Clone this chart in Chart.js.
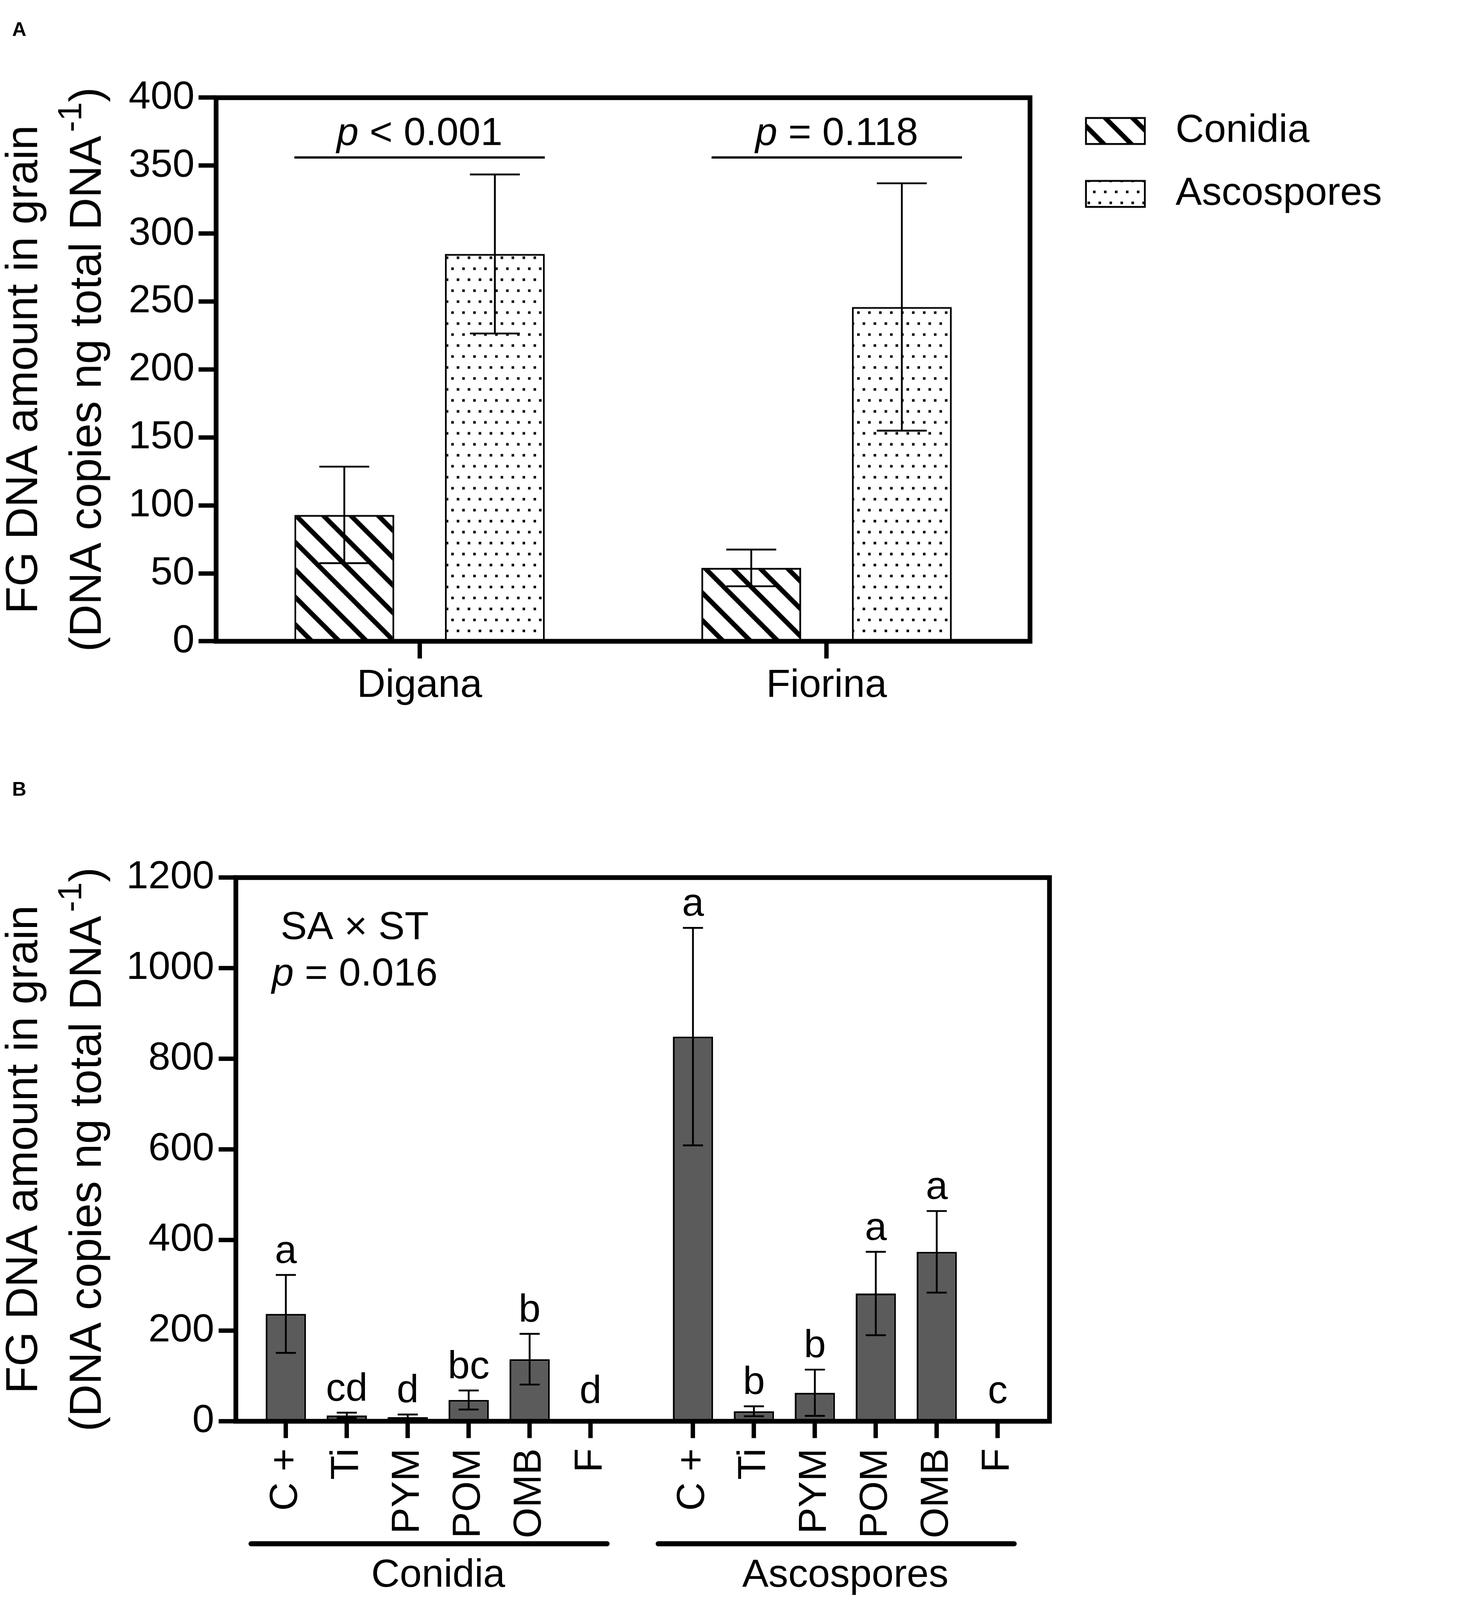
<!DOCTYPE html>
<html>
<head>
<meta charset="utf-8">
<script src="https://cdn.jsdelivr.net/npm/chart.js@4.4.1/dist/chart.umd.min.js"></script>
<style>
  html, body { margin: 0; padding: 0; background: #ffffff; overflow: hidden; }
  #wrap { position: relative; background: #ffffff; }
  canvas { position: absolute; left: 0; }
</style>
</head>
<body>
<div id="wrap">
  <canvas id="chartA" width="3796" height="2050"></canvas>
  <canvas id="chartB" width="3796" height="2326"></canvas>
</div>
<script>
// ---------------- DATA ----------------
// Panel A
const CULTIVARS = ['Digana', 'Fiorina'];
const SPORE_TYPES = ['Conidia', 'Ascospores'];
const A_CONIDIA = [93, 54];
const A_CONIDIA_SE = [35.5, 13.5];
const A_ASCO = [285, 246];
const A_ASCO_SE = [58.5, 91];
const A_PVALUES = ['< 0.001', '= 0.118'];
const A_Y_MAX = 400;
const A_Y_STEP = 50;
const A_SIG_LEVEL = 356;          // height of the significance bar (axis units)

// Panel B
const TREATMENTS = ['C +', 'Ti', 'PYM', 'POM', 'OMB', 'F'];
const B_CONIDIA = [237, 13, 9, 47, 137, 0];
const B_CONIDIA_SE = [86, 6, 6, 21, 56, 0];
const B_ASCO = [849, 22, 63, 282, 374, 0];
const B_ASCO_SE = [240, 11, 51, 92, 90, 0];
const B_CONIDIA_LETTERS = ['a', 'cd', 'd', 'bc', 'b', 'd'];
const B_ASCO_LETTERS = ['a', 'b', 'b', 'a', 'a', 'c'];
const B_Y_MAX = 1200;
const B_Y_STEP = 200;
const B_STAT_LINES = ['SA \u00D7 ST', '= 0.016'];

// Axis titles
const Y_TITLE_1 = 'FG DNA amount in grain';
const Y_TITLE_2 = '(DNA copies ng total DNA';
const Y_TITLE_SUP = '-1';
const Y_TITLE_END = ')';

// ---------------- STYLE / LAYOUT ----------------
const DESIGN_W = 3796, DESIGN_H = 4376;
const A_H = 2050, B_H = DESIGN_H - A_H;
const FONT = "'Liberation Sans', Arial, Helvetica, sans-serif";
const FS = 108;              // main font size
const TITLE_FS = 122;
const SUP_FS = 92;
const FRAME_W = 13;
const TICK_W = 12;
const BAR_GREY = '#5b5b5b';
const GROUP_GAP = 0.68;      // extra spacing between treatment groups (slot units)
const SIG_SHIFT_PX = [0, 28]; // horizontal nudge of each significance bar

Chart.defaults.font.family = FONT;
Chart.defaults.color = '#000';

// fit the design to the actual viewport
const VW = window.innerWidth || DESIGN_W, VH = window.innerHeight || DESIGN_H;
const SCALE = Math.min(VW / DESIGN_W, VH / DESIGN_H);
const DPR = SCALE * (window.devicePixelRatio || 1);
(function sizePage() {
  const wrap = document.getElementById('wrap');
  wrap.style.width = (DESIGN_W * SCALE) + 'px';
  wrap.style.height = (DESIGN_H * SCALE) + 'px';
  const a = document.getElementById('chartA'), b = document.getElementById('chartB');
  a.style.top = '0px';
  a.style.width = (DESIGN_W * SCALE) + 'px'; a.style.height = (A_H * SCALE) + 'px';
  b.style.top = (A_H * SCALE) + 'px';
  b.style.width = (DESIGN_W * SCALE) + 'px'; b.style.height = (B_H * SCALE) + 'px';
})();

// derived positions for panel B
const B_POS = [];
const B_LABELS = [];
const B_VALUES = [];
const B_SE = [];
const B_LETTERS = [];
[[B_CONIDIA, B_CONIDIA_SE, B_CONIDIA_LETTERS], [B_ASCO, B_ASCO_SE, B_ASCO_LETTERS]].forEach((grp, gi) => {
  TREATMENTS.forEach((t, i) => {
    B_POS.push(gi * (TREATMENTS.length + GROUP_GAP) + i);
    B_LABELS.push(t);
    B_VALUES.push(grp[0][i]);
    B_SE.push(grp[1][i]);
    B_LETTERS.push(grp[2][i]);
  });
});
const B_X_MIN = B_POS[0] - 0.82;
const B_X_MAX = B_POS[B_POS.length - 1] + 0.85;

// ---------------- PATTERNS ----------------
function makeHatch(ctx) {
  const T = 75;
  const c = document.createElement('canvas');
  c.width = T; c.height = T;
  const g = c.getContext('2d');
  g.fillStyle = '#fff'; g.fillRect(0, 0, T, T);
  g.strokeStyle = '#000'; g.lineWidth = 13;
  for (const k of [-T, 0, T]) {
    g.beginPath(); g.moveTo(k - 20, -20); g.lineTo(k + T + 20, T + 20); g.stroke();
  }
  return ctx.createPattern(c, 'repeat');
}
function makeDots(ctx) {
  const W = 30, H = 60;
  const c = document.createElement('canvas');
  c.width = W; c.height = H;
  const g = c.getContext('2d');
  g.fillStyle = '#fff'; g.fillRect(0, 0, W, H);
  g.fillStyle = '#000';
  g.fillRect(4, 11, 7, 7);
  g.fillRect(19, 41, 7, 7);
  return ctx.createPattern(c, 'repeat');
}

// ---------------- DRAW HELPERS ----------------
function drawFrame(chart) {
  const { ctx, chartArea: ca } = chart;
  ctx.save();
  ctx.strokeStyle = '#000'; ctx.lineWidth = FRAME_W; ctx.lineJoin = 'miter';
  ctx.strokeRect(ca.left, ca.top, ca.right - ca.left, ca.bottom - ca.top);
  ctx.restore();
}
function drawErrorBars(chart, seSets) {
  const ctx = chart.ctx, ys = chart.scales.y;
  ctx.save();
  ctx.strokeStyle = '#000'; ctx.lineWidth = 5;
  chart.data.datasets.forEach((ds, di) => {
    const meta = chart.getDatasetMeta(di);
    meta.data.forEach((bar, i) => {
      const raw = ds.data[i];
      const v = (typeof raw === 'object') ? raw.y : raw;
      const e = seSets[di][i];
      if (!e) return;
      const yt = ys.getPixelForValue(v + e), yb = ys.getPixelForValue(v - e);
      const h = bar.width / 4;
      ctx.beginPath();
      ctx.moveTo(bar.x, yt); ctx.lineTo(bar.x, yb);
      ctx.moveTo(bar.x - h, yt); ctx.lineTo(bar.x + h, yt);
      ctx.moveTo(bar.x - h, yb); ctx.lineTo(bar.x + h, yb);
      ctx.stroke();
    });
  });
  ctx.restore();
}
function drawYTitle(chart) {
  const ctx = chart.ctx, ca = chart.chartArea;
  const cy = (ca.top + ca.bottom) / 2;
  ctx.save();
  ctx.fillStyle = '#000';
  ctx.translate(101, cy); ctx.rotate(-Math.PI / 2);
  ctx.font = TITLE_FS + 'px ' + FONT;
  ctx.textAlign = 'center'; ctx.textBaseline = 'alphabetic';
  ctx.fillText(Y_TITLE_1, 0, 0);
  ctx.restore();

  ctx.save();
  ctx.fillStyle = '#000';
  ctx.translate(276, cy); ctx.rotate(-Math.PI / 2);
  ctx.textAlign = 'left'; ctx.textBaseline = 'alphabetic';
  const mainF = TITLE_FS + 'px ' + FONT, supF = SUP_FS + 'px ' + FONT;
  ctx.font = mainF;
  const w1 = ctx.measureText(Y_TITLE_2).width, w3 = ctx.measureText(Y_TITLE_END).width;
  ctx.font = supF;
  const ws = ctx.measureText(Y_TITLE_SUP).width;
  const gap = 10;
  let x = -(w1 + gap + ws + w3) / 2;
  ctx.font = mainF; ctx.fillText(Y_TITLE_2, x, 0); x += w1 + gap;
  ctx.font = supF; ctx.fillText(Y_TITLE_SUP, x, -54); x += ws;
  ctx.font = mainF; ctx.fillText(Y_TITLE_END, x, 0);
  ctx.restore();
}
function drawPanelLabel(chart, letter, baseline) {
  const ctx = chart.ctx;
  ctx.save();
  ctx.fillStyle = '#000';
  ctx.font = 'bold 54px ' + FONT;
  ctx.textAlign = 'left'; ctx.textBaseline = 'alphabetic';
  ctx.fillText(letter, 33, baseline);
  ctx.restore();
}
function drawPText(ctx, rest, cx, baseline) {
  const nf = FS + 'px ' + FONT, itf = 'italic ' + FS + 'px ' + FONT;
  ctx.font = itf; const wp = ctx.measureText('p').width;
  ctx.font = nf; const wr = ctx.measureText(' ' + rest).width;
  let x = cx - (wp + wr) / 2;
  ctx.textAlign = 'left'; ctx.textBaseline = 'alphabetic';
  ctx.font = itf; ctx.fillText('p', x, baseline);
  ctx.font = nf; ctx.fillText(' ' + rest, x + wp, baseline);
}
function zeroPad(s) { s.paddingLeft = 0; s.paddingRight = 0; s.paddingTop = 0; s.paddingBottom = 0; }

// ---------------- PANEL A ----------------
const ctxA = document.getElementById('chartA').getContext('2d');
const hatch = makeHatch(ctxA);
const dots = makeDots(ctxA);
const LEGEND_GAP = 89;   // gap between plot frame and legend block

const pluginA = {
  id: 'panelA',
  afterLayout(chart) {
    const lg = chart.legend;
    if (!lg) return;
    const d = chart.chartArea.right + LEGEND_GAP - lg.left;
    lg.left += d; lg.right += d;
  },
  afterDatasetsDraw(chart) {
    drawErrorBars(chart, [A_CONIDIA_SE, A_ASCO_SE]);
  },
  afterDraw(chart) {
    const ctx = chart.ctx, ys = chart.scales.y;
    drawFrame(chart);
    const m0 = chart.getDatasetMeta(0), m1 = chart.getDatasetMeta(1);
    ctx.save();
    ctx.strokeStyle = '#000'; ctx.fillStyle = '#000'; ctx.lineWidth = 6;
    CULTIVARS.forEach((c, i) => {
      const b0 = m0.data[i], b1 = m1.data[i];
      const sh = SIG_SHIFT_PX[i] || 0;
      const x1 = b0.x - b0.width / 2 + sh, x2 = b1.x + b1.width / 2 + sh;
      const yy = ys.getPixelForValue(A_SIG_LEVEL);
      ctx.beginPath(); ctx.moveTo(x1, yy); ctx.lineTo(x2, yy); ctx.stroke();
      drawPText(ctx, A_PVALUES[i], (x1 + x2) / 2, yy - 34);
    });
    ctx.restore();
    drawYTitle(chart);
    drawPanelLabel(chart, 'A', 98);
  }
};

new Chart(ctxA, {
  type: 'bar',
  data: {
    labels: CULTIVARS,
    datasets: [
      { label: SPORE_TYPES[0], data: A_CONIDIA, backgroundColor: hatch, borderColor: '#000', borderWidth: 5, borderSkipped: false },
      { label: SPORE_TYPES[1], data: A_ASCO, backgroundColor: dots, borderColor: '#000', borderWidth: 5, borderSkipped: false }
    ]
  },
  options: {
    responsive: false,
    animation: false,
    devicePixelRatio: DPR,
    events: [],
    layout: { autoPadding: false, padding: { left: 0, top: 240, right: 96, bottom: 0 } },
    datasets: { bar: { categoryPercentage: 0.74, barPercentage: 0.663 } },
    scales: {
      x: {
        position: 'bottom', offset: true,
        grid: { display: true, drawOnChartArea: false, drawTicks: true, tickLength: 47, tickWidth: TICK_W, tickColor: '#000', color: '#000', offset: false },
        border: { display: false },
        ticks: { color: '#000', font: { size: FS }, padding: 10, maxRotation: 0, minRotation: 0 },
        afterFit: s => { s.height = 297; zeroPad(s); }
      },
      x2: {
        type: 'category', position: 'top', display: true,
        grid: { display: false }, border: { display: false }, ticks: { display: false },
        afterFit: s => { s.height = 27; zeroPad(s); }
      },
      y: {
        min: 0, max: A_Y_MAX,
        ticks: { stepSize: A_Y_STEP, color: '#000', font: { size: FS }, padding: 11, callback: v => String(v) },
        grid: { display: true, drawOnChartArea: false, drawTicks: true, tickLength: 48, tickWidth: TICK_W, tickColor: '#000', color: '#000' },
        border: { display: false },
        afterFit: s => { s.width = 591; zeroPad(s); }
      }
    },
    plugins: {
      tooltip: { enabled: false },
      legend: {
        display: true, position: 'right', align: 'start', fullSize: true, maxWidth: 900,
        labels: {
          boxWidth: 161, boxHeight: 71, padding: 64, color: '#000', font: { size: FS },
          generateLabels: chart => chart.data.datasets.map((ds, i) => ({
            text: ' ' + ds.label, fillStyle: ds.backgroundColor, strokeStyle: '#000',
            lineWidth: 5, hidden: false, datasetIndex: i
          }))
        }
      }
    }
  },
  plugins: [pluginA]
});

// ---------------- PANEL B ----------------
const ctxB = document.getElementById('chartB').getContext('2d');

const pluginB = {
  id: 'panelB',
  afterDatasetsDraw(chart) {
    drawErrorBars(chart, [B_SE]);
    const ctx = chart.ctx, ys = chart.scales.y;
    const meta = chart.getDatasetMeta(0);
    ctx.save();
    ctx.fillStyle = '#000'; ctx.font = FS + 'px ' + FONT;
    ctx.textAlign = 'center'; ctx.textBaseline = 'alphabetic';
    meta.data.forEach((bar, i) => {
      const top = ys.getPixelForValue(B_VALUES[i] + B_SE[i]);
      const base = Math.min(top - 33, ys.getPixelForValue(0) - 50);
      ctx.fillText(B_LETTERS[i], bar.x, base);
    });
    ctx.restore();
  },
  afterDraw(chart) {
    const ctx = chart.ctx, xs = chart.scales.x, ca = chart.chartArea;
    drawFrame(chart);
    ctx.save();
    ctx.strokeStyle = '#000'; ctx.fillStyle = '#000'; ctx.lineWidth = 14; ctx.lineCap = 'round';
    const n = TREATMENTS.length;
    SPORE_TYPES.forEach((name, gi) => {
      const first = B_POS[gi * n], last = B_POS[gi * n + n - 1];
      const x1 = xs.getPixelForValue(first - 0.57), x2 = xs.getPixelForValue(last + 0.27);
      const yy = ca.bottom + 335;
      ctx.beginPath(); ctx.moveTo(x1, yy); ctx.lineTo(x2, yy); ctx.stroke();
      ctx.font = FS + 'px ' + FONT; ctx.textAlign = 'center'; ctx.textBaseline = 'alphabetic';
      ctx.fillText(name, (xs.getPixelForValue(first) + xs.getPixelForValue(last)) / 2, ca.bottom + 453);
    });
    ctx.font = FS + 'px ' + FONT; ctx.textAlign = 'center';
    ctx.fillText(B_STAT_LINES[0], ca.left + 325, ca.top + 168);
    drawPText(ctx, B_STAT_LINES[1], ca.left + 325, ca.top + 295);
    ctx.restore();
    drawYTitle(chart);
    drawPanelLabel(chart, 'B', 126);
  }
};

new Chart(ctxB, {
  type: 'bar',
  data: {
    datasets: [{
      label: 'FG DNA',
      data: B_POS.map((x, i) => ({ x: x, y: B_VALUES[i] })),
      backgroundColor: BAR_GREY, borderColor: '#000', borderWidth: 5, borderSkipped: false,
      categoryPercentage: 1, barPercentage: 0.66
    }]
  },
  options: {
    responsive: false,
    animation: false,
    devicePixelRatio: DPR,
    events: [],
    layout: { autoPadding: false, padding: { left: 0, top: 350, right: 926, bottom: 0 } },
    scales: {
      x: {
        type: 'linear', min: B_X_MIN, max: B_X_MAX, offset: false, bounds: 'data',
        afterBuildTicks: s => { s.ticks = B_POS.map(v => ({ value: v })); },
        ticks: { autoSkip: false, minRotation: 90, maxRotation: 90, color: '#000', font: { size: FS }, padding: 28,
                 callback: (v, i) => B_LABELS[i] },
        grid: { display: true, drawOnChartArea: false, drawTicks: true, tickLength: 46, tickWidth: TICK_W, tickColor: '#000', color: '#000', offset: false },
        border: { display: false },
        afterFit: s => { s.height = 489; zeroPad(s); }
      },
      y: {
        min: 0, max: B_Y_MAX,
        ticks: { stepSize: B_Y_STEP, color: '#000', font: { size: FS }, padding: 12, callback: v => String(v) },
        grid: { display: true, drawOnChartArea: false, drawTicks: true, tickLength: 47, tickWidth: TICK_W, tickColor: '#000', color: '#000' },
        border: { display: false },
        afterFit: s => { s.width = 645; zeroPad(s); }
      }
    },
    plugins: {
      tooltip: { enabled: false },
      legend: { display: false }
    }
  },
  plugins: [pluginB]
});
</script>
</body>
</html>
